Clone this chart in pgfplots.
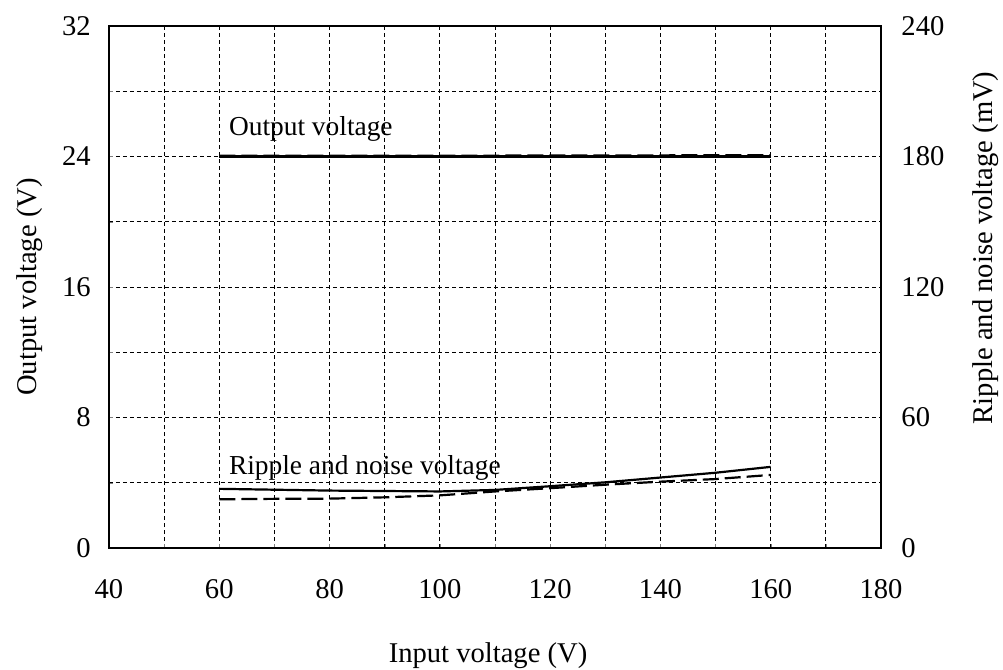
\documentclass[border=0pt]{standalone}
\usepackage{fontspec}
\setmainfont{Liberation Serif}
\usepackage{pgfplots}
\pgfplotsset{compat=1.18}
\newcommand{\chartfont}{\fontsize{14.3}{17}\selectfont}
\newcommand{\inchartfont}{\fontsize{13.7}{16}\selectfont}
\begin{document}
\begin{tikzpicture}
\pgfplotsset{
  every axis/.append style={
    scale only axis, width=386pt, height=261pt,
    xmin=40, xmax=180,
    /pgf/number format/assume math mode=true,
    tick label style={font=\chartfont},
    label style={font=\chartfont},
    tick align=inside,
    major tick length=2pt, minor tick length=2pt,
    axis line style={line width=1pt},
  }
}
\begin{axis}[
  ymin=0, ymax=32,
  xtick={40,60,...,180}, minor xtick={50,70,...,170},
  ytick={0,8,...,32}, minor ytick={4,12,20,28},
  ytick pos=left, xtick pos=bottom,
  grid=both,
  major grid style={black, line width=0.5pt, dash pattern=on 2pt off 1.5pt},
  minor grid style={black, line width=0.5pt, dash pattern=on 2pt off 1.5pt},
  xticklabel style={yshift=-12.1pt},
  yticklabel style={xshift=-5.6pt},
  xlabel={Input voltage (V)},
  xlabel style={at={(axis description cs:0.491,-0.2184)}, anchor=base},
  ylabel={Output voltage (V)},
  ylabel style={at={(axis description cs:-0.0939,0.5)}, anchor=base},
]
\addplot[black, line width=1.4pt] coordinates {(60,24.0) (160,24.0)};
\addplot[black, line width=1.1pt, dash pattern=on 8pt off 3pt] coordinates {(60,24.05) (100,24.05) (160,24.08)};
\node[anchor=base west, font=\inchartfont, inner sep=0pt] at (axis cs:61.7,25.3) {Output voltage};
\node[anchor=base west, font=\inchartfont, inner sep=0pt] at (axis cs:61.7,4.5) {Ripple and noise voltage};
\end{axis}
\begin{axis}[
  ymin=0, ymax=240,
  axis x line=none,
  axis y line*=right,
  ytick={0,60,...,240},
  major tick length=0pt,
  yticklabel style={xshift=6.7pt},
  ylabel={Ripple and noise voltage (mV)},
  ylabel style={at={(axis description cs:1.145,0.575)}, anchor=base},
]
\addplot[black, line width=1.1pt] coordinates {
(60,27.2) (70,26.8) (80,26.4) (90,26.2) (100,26.0) (110,26.7) (120,28.4) (130,30.2) (140,32.4) (150,34.6) (160,37.3)};
\addplot[black, line width=1.1pt, dash pattern=on 8pt off 3pt] coordinates {
(60,22.4) (70,22.6) (80,22.7) (90,23.3) (100,24.2) (110,26.0) (120,27.5) (130,29.1) (140,30.5) (150,31.7) (160,33.6)};
\end{axis}
\pgfresetboundingbox
\useasboundingbox (-54.5pt,-61pt) rectangle (447pt,274pt);
\end{tikzpicture}
\end{document}
